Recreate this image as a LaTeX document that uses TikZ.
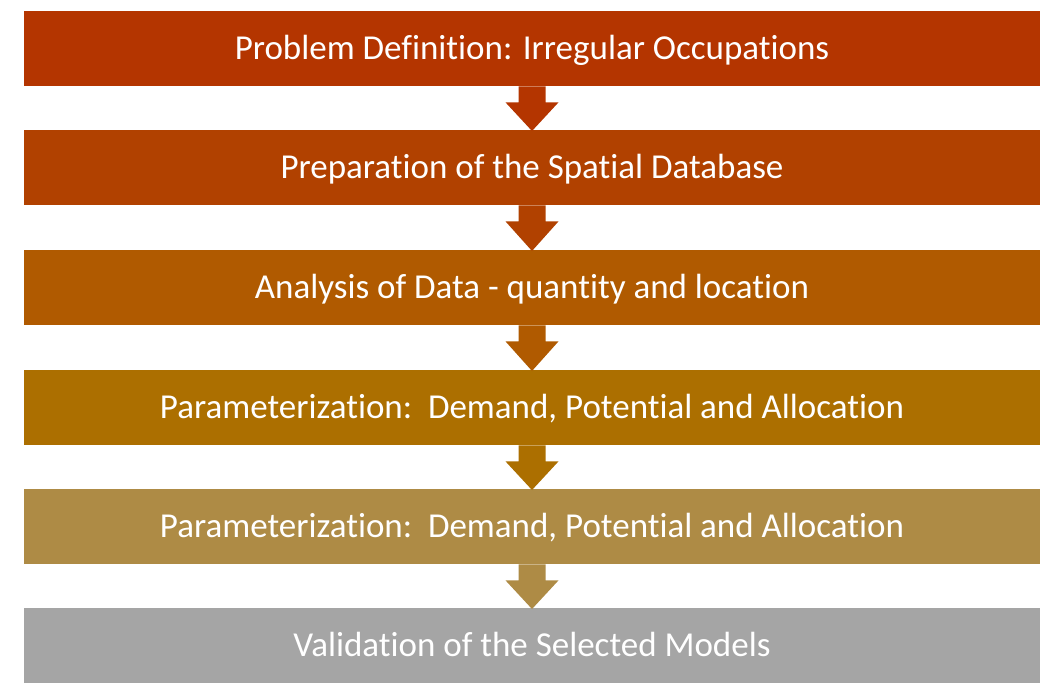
\documentclass[tikz,border=0pt]{standalone}
\usepackage{fontspec}
\setmainfont[RawFeature={-liga;-clig;-dlig;-calt;-rlig}]{Carlito}
\usetikzlibrary{calc}
\definecolor{c1}{RGB}{180,53,0}
\definecolor{c2}{RGB}{177,65,0}
\definecolor{c3}{RGB}{176,90,0}
\definecolor{c4}{RGB}{172,111,0}
\definecolor{c5}{RGB}{174,139,69}
\definecolor{c6}{RGB}{165,165,165}
\tikzset{
  stepbox/.style={fill=#1, draw=none, minimum width=1016pt, minimum height=75pt,
    inner sep=0pt, text=white, font=\fontsize{35}{40}\selectfont, anchor=north,
    text height=29pt, text depth=8pt},
}
\newcommand{\blockarrow}[3]{%
  \fill[#3] ($(#1.south)+(-13.5pt,0)$) -- ($(#1.south)+(13.5pt,0)$)
    -- ($(#1.south)+(13.5pt,-16pt)$) -- ($(#1.south)+(26.5pt,-16pt)$)
    -- ($(#2.north)+(0,-1pt)$)
    -- ($(#1.south)+(-26.5pt,-16pt)$) -- ($(#1.south)+(-13.5pt,-16pt)$) -- cycle;}
\begin{document}
\begin{tikzpicture}[x=1pt,y=-1pt]
\useasboundingbox (0,0) rectangle (1045,687);
\node[stepbox=c1] (b1) at (532,11) {Problem Definition: Irregular Occupations};
\node[stepbox=c2] (b2) at (532,130) {Preparation of the Spatial Database};
\node[stepbox=c3] (b3) at (532,250) {Analysis of Data - quantity and location};
\node[stepbox=c4] (b4) at (532,370) {Parameterization:\ \ Demand, Potential and Allocation};
\node[stepbox=c5] (b5) at (532,489) {Parameterization:\ \ Demand, Potential and Allocation};
\node[stepbox=c6] (b6) at (532,608) {Validation of the Selected Models};
\blockarrow{b1}{b2}{c1}
\blockarrow{b2}{b3}{c2}
\blockarrow{b3}{b4}{c3}
\blockarrow{b4}{b5}{c4}
\blockarrow{b5}{b6}{c5}
\end{tikzpicture}
\end{document}
